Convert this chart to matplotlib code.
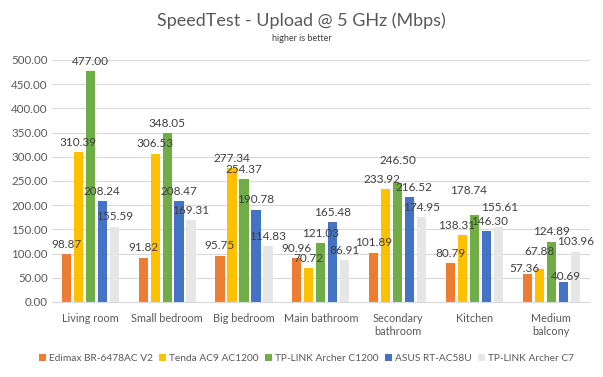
import numpy as np
import matplotlib
matplotlib.use("Agg")
import matplotlib.pyplot as plt

plt.rcParams['font.family'] = ['Lato', 'DejaVu Sans']

rooms = ["Living room", "Small bedroom", "Big bedroom", "Main bathroom",
         "Secondary\nbathroom", "Kitchen", "Medium\nbalcony"]
routers = ["Edimax BR-6478AC V2", "Tenda AC9 AC1200", "TP-LINK Archer C1200",
           "ASUS RT-AC58U", "TP-LINK Archer C7"]

edimax = [98.87, 91.82, 95.75, 90.96, 101.89, 80.79, 57.36]
tenda = [310.39, 306.53, 277.34, 70.72, 233.92, 138.31, 67.88]
archer_c1200 = [477.00, 348.05, 254.37, 121.03, 246.50, 178.74, 124.89]
asus = [208.24, 208.47, 190.78, 165.48, 216.52, 146.30, 40.69]
archer_c7 = [155.59, 169.31, 114.83, 86.91, 174.95, 155.61, 103.96]

series = [edimax, tenda, archer_c1200, asus, archer_c7]
colors = ["#ED7D31", "#FFC000", "#70AD47", "#4472C4", "#E7E6E6"]

# label nudges (series index, room index) -> (dx, dy) in points, like Excel's moved labels
nudges = {(2, 4): (0, 9), (2, 5): (-4, 11), (4, 5): (1, 7), (1, 6): (0, 6),
          (0, 6): (-2, -3), (3, 6): (2, -3), (1, 4): (-3, 0), (3, 4): (3, 0),
          (1, 5): (-4, 0), (3, 5): (2, 0)}

fig = plt.figure(figsize=(6.03, 3.77), dpi=100)
ax = fig.add_axes([0.086, 0.199, 0.892, 0.642])

x = np.arange(len(rooms))
step = 0.156
width = 0.12
for i, (vals, col) in enumerate(zip(series, colors)):
    pos = x + (i - 2) * step
    ax.bar(pos, vals, width, color=col, label=routers[i], zorder=2)
    for j, (px, v) in enumerate(zip(pos, vals)):
        dx, dy = nudges.get((i, j), (0, 0))
        ax.annotate(f"{v:.2f}", (px, v), xytext=(dx, 3 + dy), textcoords="offset points",
                    ha="center", va="bottom", fontsize=8.5, color="#404040", zorder=3)

ax.set_xlim(-0.5, len(rooms) - 0.5)
ax.set_ylim(0, 500)
ax.set_yticks(np.arange(0, 501, 50))
ax.set_yticklabels([f"{t:.2f}" for t in np.arange(0, 501, 50)])
ax.set_xticks(x)
ax.set_xticklabels(rooms)
ax.tick_params(length=0, colors="#595959")
ax.tick_params(axis="y", labelsize=8.3, pad=3)
ax.tick_params(axis="x", labelsize=7.8, pad=8)
ax.grid(axis="y", color="#D9D9D9", linewidth=0.8, zorder=0)
for s in ["top", "right", "left"]:
    ax.spines[s].set_visible(False)
ax.spines["bottom"].set_color("#D9D9D9")

fig.text(0.5, 0.945, "SpeedTest - Upload @ 5 GHz (Mbps)", ha="center", va="center",
         fontsize=13, color="#595959")
fig.text(0.5, 0.897, "higher is better", ha="center", va="center",
         fontsize=6.5, color="#404040")

fig.legend(loc="center", bbox_to_anchor=(0.508, 0.05), ncol=5, frameon=False,
           fontsize=7.3, handlelength=0.7, handleheight=0.7, handletextpad=0.3,
           columnspacing=0.6, labelcolor="#595959")

fig.savefig("out.png", dpi=100)
